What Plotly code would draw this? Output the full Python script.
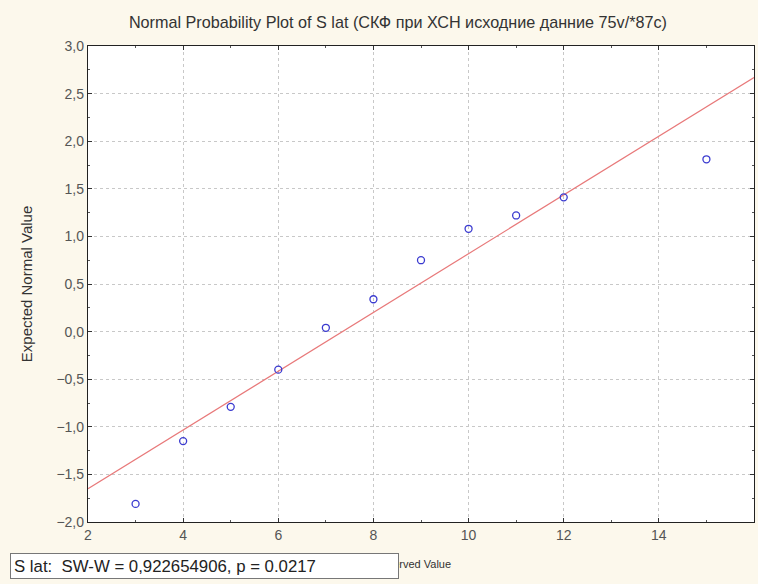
import plotly.graph_objects as go

observed = [3, 4, 5, 6, 7, 8, 9, 10, 11, 12, 15]
expected = [-1.81, -1.15, -0.79, -0.40, 0.04, 0.34, 0.75, 1.08, 1.22, 1.41, 1.81]
fit_x = [2, 16]
fit_y = [-1.65, 2.67]
x_ticks = [2, 4, 6, 8, 10, 12, 14, 16]
y_ticks = [-2.0, -1.5, -1.0, -0.5, 0.0, 0.5, 1.0, 1.5, 2.0, 2.5, 3.0]

title_text = "Normal Probability Plot of S lat (СКФ при ХСН исходние данние 75v/*87c)"
stat_text = "S lat:  SW-W = 0,922654906, p = 0.0217"
x_title = "Observed Value"

font_family = "Liberation Sans, Arial, sans-serif"

fig = go.Figure()
fig.add_trace(go.Scatter(x=fit_x, y=fit_y, mode="lines",
                         line=dict(color="#e8797a", width=1.2), showlegend=False, hoverinfo="skip"))
fig.add_trace(go.Scatter(x=observed, y=expected, mode="markers",
                         marker=dict(symbol="circle-open", size=7, color="#3a3acf",
                                     line=dict(width=1.3, color="#3a3acf")),
                         showlegend=False))

axis_common = dict(showline=True, linecolor="#222", linewidth=1.3, mirror="ticks",
                   ticks="inside", ticklen=4, tickcolor="#333",
                   showgrid=True, gridcolor="#c8c8c8", griddash="dot", gridwidth=1,
                   zeroline=False)

fig.update_layout(
    width=758, height=584,
    margin=dict(l=88, r=4, t=46, b=62),
    paper_bgcolor="#fcf8ec",
    plot_bgcolor="#ffffff",
    separators=", ",
    font=dict(family=font_family, size=11, color="#333"),
    title=dict(text=title_text, x=0.525, xanchor="center", y=0.962, yanchor="middle",
               font=dict(size=16.2, color="#333", family=font_family)),
    xaxis=dict(range=[2, 16], tickvals=x_ticks, ticktext=[str(v) for v in x_ticks],
               tickfont=dict(family=font_family, size=14, color="#555"),
               minor=dict(ticks="inside", ticklen=2, dtick=1, tickcolor="#555", showgrid=False),
               **axis_common),
    yaxis=dict(range=[-2.0, 3.0], tickvals=y_ticks, tickformat=".1f",
               tickfont=dict(family=font_family, size=14, color="#555"),
               title=dict(text="Expected Normal Value", font=dict(size=15, color="#333"), standoff=20),
               minor=dict(ticks="inside", ticklen=2, dtick=0.25, tickcolor="#555", showgrid=False),
               **axis_common),
)

fig.add_annotation(text=x_title, xref="paper", yref="paper",
                   x=0.4865, y=-0.088, xanchor="center", yanchor="middle",
                   showarrow=False, font=dict(size=11, color="#333", family=font_family))

fig.add_annotation(text=stat_text, xref="paper", yref="paper",
                   x=-0.117, y=-0.065, xanchor="left", yanchor="top",
                   showarrow=False, align="left",
                   font=dict(size=16.8, color="#222", family=font_family),
                   bgcolor="#ffffff", bordercolor="#777", borderwidth=1, borderpad=3,
                   width=381, height=18)

fig.write_html("out.html")
